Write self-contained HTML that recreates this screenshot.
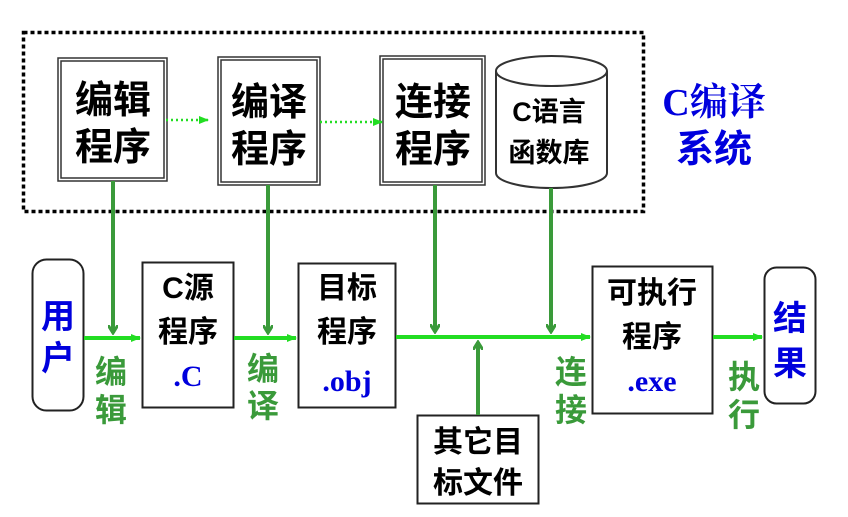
<!DOCTYPE html>
<html><head><meta charset="utf-8"><style>
html,body{margin:0;padding:0;background:#fff;}
svg{display:block;}
text{font-family:"Liberation Sans","Noto Sans CJK SC",sans-serif;font-weight:bold;}
.s{font-family:"Liberation Serif","Noto Serif CJK SC",serif;}
</style></head><body>
<svg width="848" height="517" viewBox="0 0 848 517" xmlns="http://www.w3.org/2000/svg">
<defs>
<marker id="ag" markerWidth="10" markerHeight="10" refX="8" refY="5" orient="auto" markerUnits="userSpaceOnUse"><path d="M0,0 L8,5 L0,10" fill="none" stroke="#3a9a3a" stroke-width="3"/></marker>
<marker id="al" markerWidth="10" markerHeight="8" refX="9" refY="4" orient="auto" markerUnits="userSpaceOnUse"><path d="M0,0 L10,4 L0,8z" fill="#22dd22"/></marker>
</defs>
<rect x="23.5" y="32.5" width="620" height="179" fill="none" stroke="#000" stroke-width="3.5" stroke-dasharray="4 3"/>
<!-- top boxes -->
<g fill="#fff" stroke="#333">
<rect x="58" y="58" width="109" height="123" stroke-width="1.5"/><rect x="61" y="61" width="103" height="117" stroke-width="1.5"/>
<rect x="218" y="57" width="102" height="128" stroke-width="1.5"/><rect x="221" y="60" width="96" height="122" stroke-width="1.5"/>
<rect x="380" y="56" width="105" height="129" stroke-width="1.5"/><rect x="383" y="59" width="99" height="123" stroke-width="1.5"/>
</g>
<path d="M496,71 L496,173 A55.5,15 0 0 0 607,173 L607,71" fill="#fff" stroke="#333" stroke-width="2"/>
<ellipse cx="551.5" cy="71" rx="55.5" ry="15" fill="#fff" stroke="#333" stroke-width="2"/>
<g stroke="#22dd22" stroke-width="2.5" stroke-dasharray="2 3">
<line x1="166" y1="120" x2="208" y2="120" marker-end="url(#al)"/>
<line x1="320" y1="122" x2="382" y2="122" marker-end="url(#al)"/>
</g>
<g font-size="38" fill="#000" text-anchor="middle">
<text x="113" y="113">编辑</text><text x="113" y="160">程序</text>
<text x="269" y="115">编译</text><text x="269" y="162">程序</text>
<text x="433" y="115">连接</text><text x="433" y="162">程序</text>
</g>
<g font-size="27" text-anchor="middle" fill="#000">
<text x="549" y="121">C语言</text><text x="549" y="162">函数库</text>
</g>
<g font-size="38" fill="#0000dd" text-anchor="middle">
<text x="714" y="115" class="s">C编译</text><text x="714" y="162">系统</text>
</g>
<!-- bottom boxes -->
<rect x="32.5" y="259.5" width="51" height="151" rx="14" fill="#fff" stroke="#222" stroke-width="2"/>
<rect x="142.5" y="262.5" width="91" height="145" fill="#fff" stroke="#222" stroke-width="2"/>
<rect x="298.5" y="263.5" width="97" height="144" fill="#fff" stroke="#222" stroke-width="2"/>
<rect x="417.5" y="415.5" width="121" height="88" fill="#fff" stroke="#222" stroke-width="2"/>
<rect x="592.5" y="266.5" width="120" height="147" fill="#fff" stroke="#222" stroke-width="2"/>
<rect x="764.5" y="267.5" width="51" height="136" rx="12" fill="#fff" stroke="#222" stroke-width="2"/>
<!-- main line -->
<g stroke="#22dd22" stroke-width="4">
<line x1="84" y1="338" x2="140" y2="338" marker-end="url(#al)"/>
<line x1="234" y1="338" x2="296" y2="338" marker-end="url(#al)"/>
<line x1="396" y1="337" x2="590" y2="337" marker-end="url(#al)"/>
<line x1="713" y1="337" x2="762" y2="337" marker-end="url(#al)"/>
</g>
<g stroke="#3a9a3a" stroke-width="4" fill="none">
<line x1="113" y1="181" x2="113" y2="333" marker-end="url(#ag)"/>
<line x1="268" y1="185" x2="268" y2="333" marker-end="url(#ag)"/>
<line x1="435" y1="185" x2="435" y2="332" marker-end="url(#ag)"/>
<line x1="551" y1="188" x2="551" y2="332" marker-end="url(#ag)"/>
<line x1="478" y1="415" x2="478" y2="342" marker-end="url(#ag)"/>
</g>
<g font-size="34" fill="#0000dd" text-anchor="middle">
<text x="58" y="328">用</text><text x="58" y="370">户</text>
<text x="790" y="330">结</text><text x="790" y="375">果</text>
</g>
<g font-size="30" fill="#000" text-anchor="middle">
<text x="188" y="298">C源</text><text x="188" y="342">程序</text>
<text x="347" y="298">目标</text><text x="347" y="342">程序</text>
<text x="652" y="303">可执行</text><text x="652" y="347">程序</text>
<text x="478" y="452">其它目</text><text x="478" y="493">标文件</text>
</g>
<g font-size="30" fill="#0000dd" text-anchor="middle" class="s">
<text x="188" y="386" class="s">.C</text>
<text x="347" y="391" class="s">.obj</text>
<text x="652" y="391" class="s">.exe</text>
</g>
<g font-size="32" fill="#3a9a3a" text-anchor="middle">
<text x="111" y="383">编</text><text x="111" y="421">辑</text>
<text x="263" y="380">编</text><text x="263" y="417">译</text>
<text x="571" y="383">连</text><text x="571" y="421">接</text>
<text x="744" y="388">执</text><text x="744" y="426">行</text>
</g>
</svg>
</body></html>
